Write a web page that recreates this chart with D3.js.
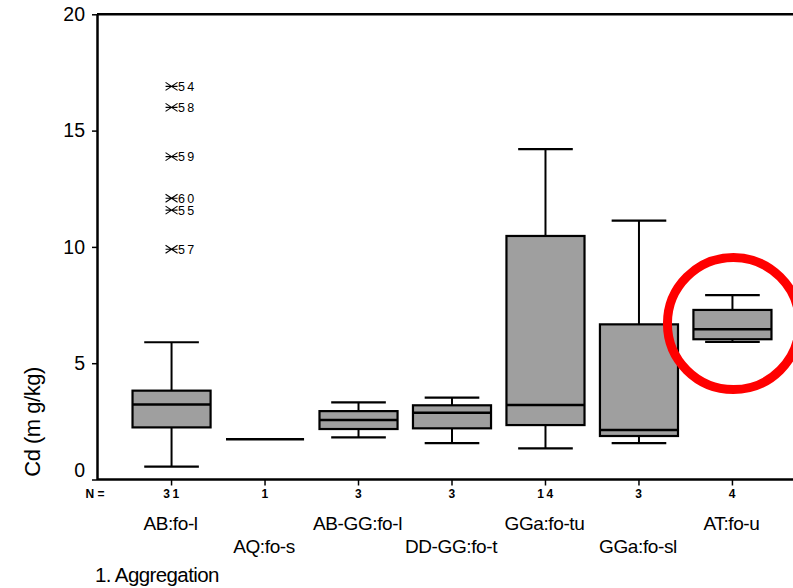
<!DOCTYPE html>
<html>
<head>
<meta charset="utf-8">
<script src="https://cdn.jsdelivr.net/npm/d3@7"></script>
<style>
  html, body { margin: 0; padding: 0; background: #fff; }
  svg { display: block; }
  text { font-family: "Liberation Sans", Arial, sans-serif; fill: #000; }
</style>
</head>
<body>
<svg id="chart" width="793" height="588"></svg>
<script>
// ---- data ----
const categories = ["AB:fo-l", "AQ:fo-s", "AB-GG:fo-l", "DD-GG:fo-t", "GGa:fo-tu", "GGa:fo-sl", "AT:fo-u"];
const nCounts    = [31, 1, 3, 3, 14, 3, 4];
const whiskerLow = [0.55, 1.73, 1.81, 1.56, 1.34, 1.56, 5.92];
const q1         = [2.24, 1.73, 2.17, 2.20, 2.34, 1.87, 6.03];
const medians    = [3.22, 1.73, 2.56, 2.87, 3.20, 2.13, 6.46];
const q3         = [3.82, 1.73, 2.94, 3.19, 10.47, 6.67, 7.29];
const whiskerHigh= [5.90, 1.73, 3.32, 3.52, 14.20, 11.13, 7.93];

const outlierGroup = ["AB:fo-l", "AB:fo-l", "AB:fo-l", "AB:fo-l", "AB:fo-l", "AB:fo-l"];
const outlierCase  = ["54", "58", "59", "60", "55", "57"];
const outlierValue = [16.9, 16.0, 13.88, 12.09, 11.58, 9.9];

const yTicks = [0, 5, 10, 15, 20];
const yLabel = "Cd (m g/kg)";
const nLabel = "N =";
const footnote = "1. Aggregation";
const highlighted = "AT:fo-u";

// ---- layout ----
const svg = d3.select("#chart");
const W = 793, H = 588;
svg.append("rect").attr("width", W).attr("height", H).attr("fill", "#fff");

const x = d3.scaleBand().domain(categories).range([97, 807]).paddingInner(0.165).paddingOuter(0.38);
const y = d3.scaleLinear().domain([0, 20]).range([479.5, 14.3]);

const boxes = categories.map((c, i) => ({
  cat: c, n: nCounts[i], lo: whiskerLow[i], q1: q1[i], med: medians[i], q3: q3[i], hi: whiskerHigh[i]
}));

const plot = svg.append("g");
const bw = x.bandwidth();
const capW = bw * 0.7;

boxes.forEach(b => {
  const cx = x(b.cat) + bw / 2;
  const g = plot.append("g");
  if (b.n === 1) {
    g.append("line").attr("x1", x(b.cat)).attr("x2", x(b.cat) + bw)
      .attr("y1", y(b.med)).attr("y2", y(b.med))
      .attr("stroke", "#000").attr("stroke-width", 2.5);
    return;
  }
  // whiskers
  g.append("line").attr("x1", cx).attr("x2", cx).attr("y1", y(b.hi)).attr("y2", y(b.q3))
    .attr("stroke", "#000").attr("stroke-width", 2);
  g.append("line").attr("x1", cx).attr("x2", cx).attr("y1", y(b.q1)).attr("y2", y(b.lo))
    .attr("stroke", "#000").attr("stroke-width", 2);
  g.append("line").attr("x1", cx - capW / 2).attr("x2", cx + capW / 2).attr("y1", y(b.hi)).attr("y2", y(b.hi))
    .attr("stroke", "#000").attr("stroke-width", 2.2);
  g.append("line").attr("x1", cx - capW / 2).attr("x2", cx + capW / 2).attr("y1", y(b.lo)).attr("y2", y(b.lo))
    .attr("stroke", "#000").attr("stroke-width", 2.2);
  // box
  g.append("rect").attr("x", x(b.cat)).attr("width", bw)
    .attr("y", y(b.q3)).attr("height", y(b.q1) - y(b.q3))
    .attr("fill", "#9f9f9f").attr("stroke", "#000").attr("stroke-width", 2.2);
  // median
  g.append("line").attr("x1", x(b.cat)).attr("x2", x(b.cat) + bw)
    .attr("y1", y(b.med)).attr("y2", y(b.med))
    .attr("stroke", "#000").attr("stroke-width", 2.5);
});

// outliers (extreme values marked with asterisks)
outlierValue.forEach((v, i) => {
  const cx = x(outlierGroup[i]) + bw / 2;
  const cy = y(v);
  const g = plot.append("g").attr("transform", `translate(${cx},${cy})`);
  g.append("path").attr("d", "M-6,-4L6,4M-6,4L6,-4M-6,0L6,0")
    .attr("stroke", "#000").attr("stroke-width", 1.1).attr("fill", "none");
  g.append("text").attr("x", 6.5).attr("y", 4.5)
    .attr("font-size", 12.5).attr("letter-spacing", 2.2)
    .text(outlierCase[i]);
});

// frame top
svg.append("line").attr("x1", 97).attr("x2", W).attr("y1", y(20)).attr("y2", y(20))
  .attr("stroke", "#000").attr("stroke-width", 2.5);

// y axis
const yAxis = svg.append("g").attr("transform", "translate(97,0)")
  .call(d3.axisLeft(y).tickValues(yTicks).tickSize(5).tickSizeOuter(0).tickPadding(7).tickFormat(d3.format("d")));
yAxis.select(".domain").attr("stroke-width", 2.5);
yAxis.selectAll(".tick line").attr("stroke-width", 1.5);
yAxis.selectAll(".tick text").attr("font-size", 19.5).attr("font-family", "Liberation Sans, Arial, sans-serif");
yAxis.selectAll(".tick").filter(d => d === 0).select("text").attr("y", -9);

// x axis
const xAxis = svg.append("g").attr("transform", `translate(0,${y(0)})`)
  .call(d3.axisBottom(x).tickSize(6).tickSizeOuter(0).tickFormat(""));
xAxis.select(".domain").attr("d", `M97,0H${W}`).attr("stroke-width", 2.5);
xAxis.selectAll(".tick line").attr("stroke-width", 1.5);

// N row
svg.append("text").attr("x", 95).attr("y", 498).attr("text-anchor", "middle")
  .attr("font-size", 12).attr("font-weight", "bold").text(nLabel);
svg.append("g").selectAll("text").data(boxes).join("text")
  .attr("x", d => x(d.cat) + bw / 2 + 1).attr("y", 498).attr("text-anchor", "middle")
  .attr("font-size", 12).attr("font-weight", "bold").attr("letter-spacing", 2.5)
  .text(d => d.n);

// category labels, staggered
svg.append("g").selectAll("text").data(categories).join("text")
  .attr("x", d => x(d) + bw / 2 - 1)
  .attr("y", (d, i) => i % 2 === 0 ? 530 : 553)
  .attr("text-anchor", "middle")
  .attr("font-size", 19).attr("letter-spacing", -0.4)
  .text(d => d);

// y label
svg.append("text").attr("transform", "translate(40,422) rotate(-90)")
  .attr("text-anchor", "middle").attr("font-size", 22).attr("letter-spacing", -0.5)
  .text(yLabel);

// footnote
svg.append("text").attr("x", 95).attr("y", 582).attr("font-size", 20.5).attr("letter-spacing", -0.6)
  .text(footnote);

// red highlight circle around AT:fo-u
svg.append("circle")
  .attr("cx", x(highlighted) + bw / 2 + 1)
  .attr("cy", y((q1[6] + q3[6]) / 2) - 1)
  .attr("r", 66)
  .attr("fill", "none").attr("stroke", "#ff0000").attr("stroke-width", 9);
</script>
</body>
</html>
